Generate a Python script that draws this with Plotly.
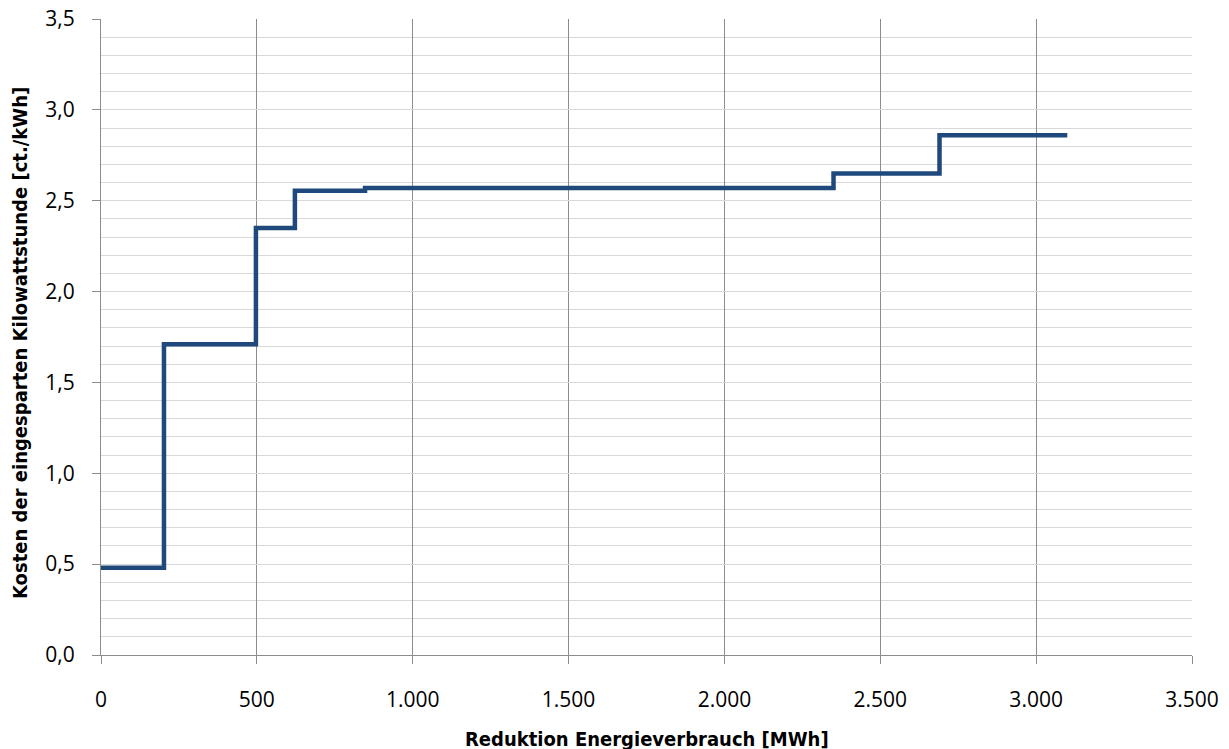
import plotly.graph_objects as go

# cumulative energy reduction (MWh) at which each cost level starts, and cost level (ct./kWh)
x_start = [0, 202, 497, 622, 847, 2350, 2690, 3100]
cost = [0.48, 1.71, 2.35, 2.555, 2.57, 2.65, 2.86, 2.86]

x_ticks = [0, 500, 1000, 1500, 2000, 2500, 3000, 3500]
y_ticks = [0.0, 0.5, 1.0, 1.5, 2.0, 2.5, 3.0, 3.5]

x_title = "Reduktion Energieverbrauch [MWh]"
y_title = "Kosten der eingesparten Kilowattstunde [ct./kWh]"

fig = go.Figure()
fig.add_trace(go.Scatter(
    x=x_start, y=cost, mode="lines", line_shape="hv",
    line=dict(color="#1F497D", width=4.5), showlegend=False,
))

tick_font = dict(family="Open Sans, Liberation Sans, sans-serif", size=21, color="#000000")
title_font = dict(family="Liberation Sans Narrow, DejaVu Sans Condensed, Lato, sans-serif", size=20, color="#000000")

fig.update_layout(
    width=1229, height=749,
    margin=dict(l=93, r=45, t=11, b=102),
    paper_bgcolor="white", plot_bgcolor="white",
    separators=",.",
    xaxis=dict(
        range=[0, 3500], tickvals=x_ticks, tickformat=",d",
        showgrid=True, gridcolor="#8c8c8c", gridwidth=1,
        showline=True, linecolor="#8c8c8c", linewidth=1,
        ticks="outside", ticklen=8, tickcolor="#8c8c8c",
        tickfont=tick_font, zeroline=False, automargin=False,
        ticklabelstandoff=18, ticklabeloverflow="allow",
    ),
    yaxis=dict(
        range=[0, 3.5], tickvals=y_ticks, tickformat=".1f",
        showgrid=True, gridcolor="#d9d9d9", gridwidth=1,
        minor=dict(dtick=0.1, showgrid=True, gridcolor="#d9d9d9", gridwidth=1),
        showline=True, linecolor="#8c8c8c", linewidth=1,
        ticks="outside", ticklen=8, tickcolor="#8c8c8c",
        tickfont=tick_font, zeroline=False, automargin=False,
        ticklabelstandoff=13, ticklabeloverflow="allow",
    ),
    annotations=[
        dict(text="<b>" + x_title + "</b>", xref="paper", yref="paper", x=0.5, y=0,
             xanchor="center", yanchor="middle", yshift=-84, showarrow=False, font=title_font),
        dict(text="<b>" + y_title + "</b>", xref="paper", yref="paper", x=0, y=0.5,
             xanchor="center", yanchor="middle", xshift=-81, yshift=-6, textangle=-90,
             showarrow=False, font=title_font),
    ],
)

fig.write_html("out.html")
